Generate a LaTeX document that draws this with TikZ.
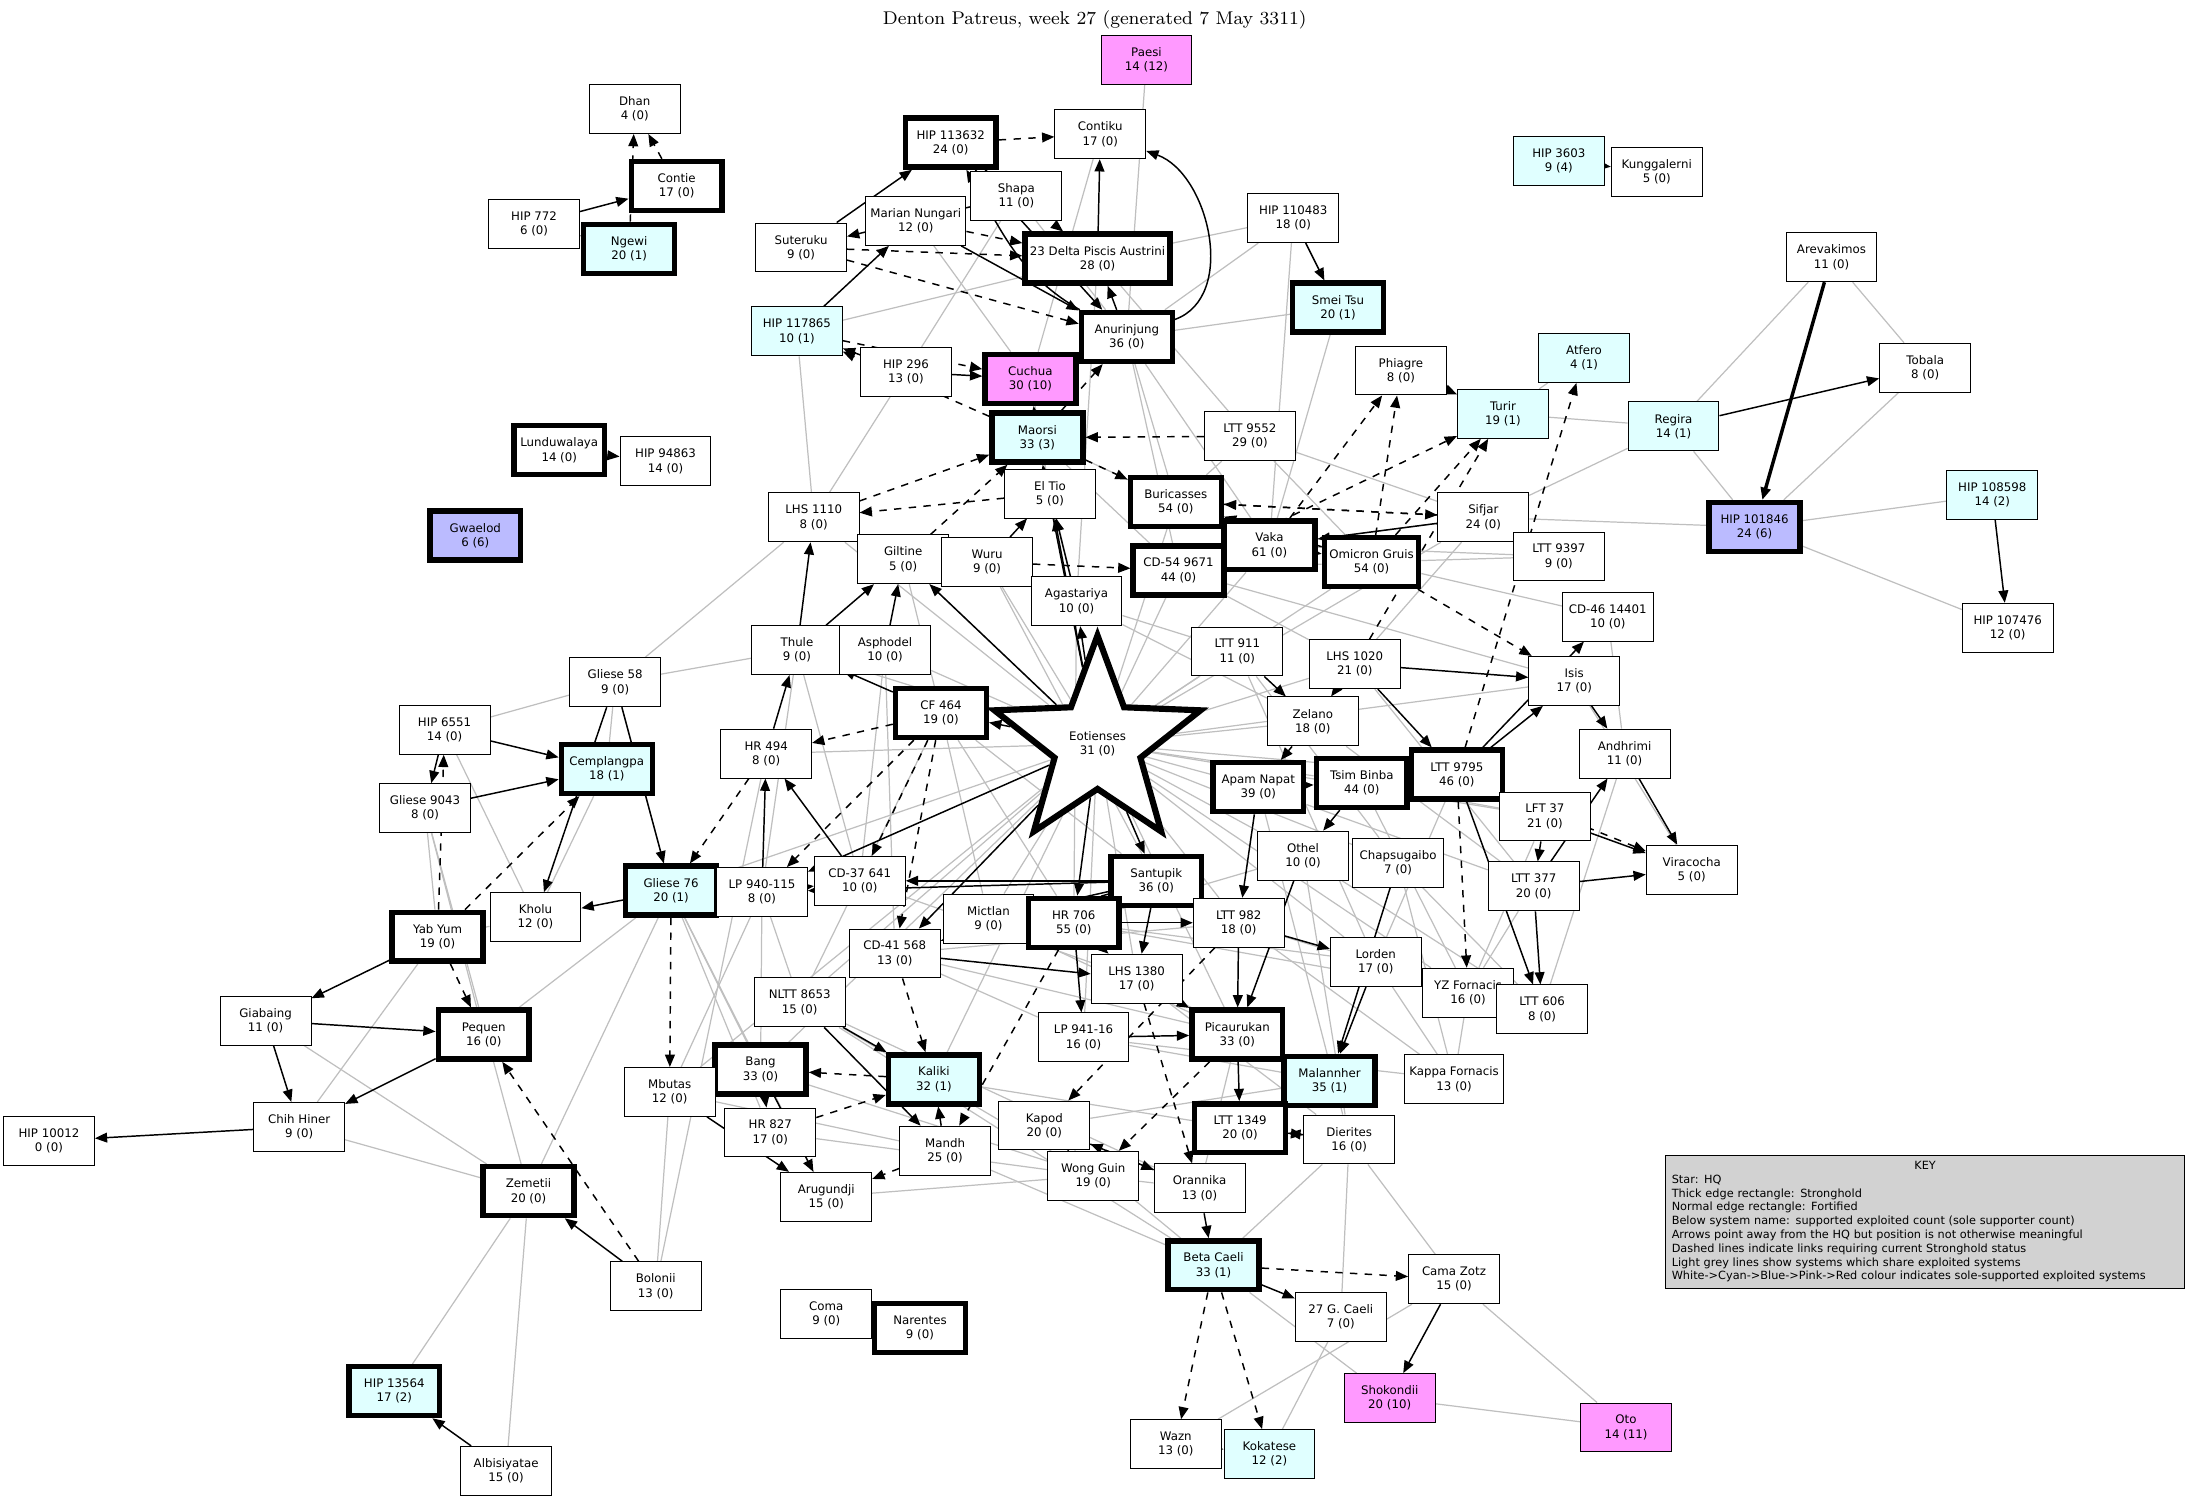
\documentclass[tikz,border=0pt]{standalone}
\usepackage{fontspec}
\setsansfont{DejaVu Sans}
\usetikzlibrary{arrows.meta,shapes.geometric,positioning,backgrounds}
\definecolor{cyanfill}{HTML}{E0FFFF}
\definecolor{bluefill}{HTML}{BBBBFF}
\definecolor{pinkfill}{HTML}{FF99FF}
\tikzset{
  sys/.style  = {draw, thin, align=center, fill=white, inner sep=2pt,
                 font=\sffamily\fontsize{4.8}{5.8}\selectfont,
                 minimum height=0.7cm, minimum width=1.3cm},
  hold/.style = {sys, line width=2.2pt},
  cy/.style   = {fill=cyanfill},
  bl/.style   = {fill=bluefill},
  pk/.style   = {fill=pinkfill},
  lnk/.style  = {-{Triangle[length=5pt,width=4pt]}, line width=0.6pt},
  dlnk/.style = {lnk, dashed},
  grey/.style = {gray!50, line width=0.5pt},
}

\begin{document}
\begin{tikzpicture}[x=0.02cm,y=-0.02cm]
  \useasboundingbox (0,0) rectangle (1565,1073);
  \node[font=\rmfamily\fontsize{7.5}{9}\selectfont] (title) at (783,14) {Denton Patreus, week 27 (generated 7 May 3311)};

  %systems, top area
  \node[sys,pk] (paesi) at (820,43) {Paesi\\14 (12)};
  \node[sys] (dhan) at (454,78) {Dhan\\4 (0)};
  \node[hold] (contie) at (484,133) {Contie\\17 (0)};
  \node[sys] (hip772) at (382,160) {HIP 772\\6 (0)};
  \node[hold,cy] (ngewi) at (450,178) {Ngewi\\20 (1)};
  \node[hold] (hipA) at (680,102) {HIP 113632\\24 (0)};
  \node[sys] (contiku) at (787,96) {Contiku\\17 (0)};
  \node[sys] (shapa) at (727,140) {Shapa\\11 (0)};
  \node[sys] (marian) at (655,158) {Marian Nungari\\12 (0)};
  \node[sys] (suteruku) at (573,177) {Suteruku\\9 (0)};
  \node[hold] (delta) at (785,185) {23 Delta Piscis Austrini\\28 (0)};
  \node[sys] (hip110483) at (925,156) {HIP 110483\\18 (0)};
  \node[sys,cy] (hip3603) at (1115,115) {HIP 3603\\9 (4)};
  \node[sys] (kung) at (1185,123) {Kunggalerni\\5 (0)};
  \node[sys] (arev) at (1310,184) {Arevakimos\\11 (0)};
  \node[hold,cy] (smei) at (957,220) {Smei Tsu\\20 (1)};
  \node[sys,cy] (hip117865) at (570,237) {HIP 117865\\10 (1)};
  \node[sys] (hip296) at (648,266) {HIP 296\\13 (0)};
  \node[hold,pk] (cuchua) at (737,271) {Cuchua\\30 (10)};
  \node[hold] (anur) at (806,241) {Anurinjung\\36 (0)};
  \node[sys] (phiagre) at (1002,265) {Phiagre\\8 (0)};
  \node[sys,cy] (atfero) at (1133,256) {Atfero\\4 (1)};
  \node[sys] (tobala) at (1377,263) {Tobala\\8 (0)};
  \node[sys,cy] (turir) at (1075,296) {Turir\\19 (1)};
  \node[sys,cy] (regira) at (1197,305) {Regira\\14 (1)};
  \node[sys] (ltt9552) at (894,312) {LTT 9552\\29 (0)};
  \node[hold,cy] (maorsi) at (742,313) {Maorsi\\33 (3)};
  \node[hold] (lundu) at (400,322) {Lunduwalaya\\14 (0)};
  \node[sys] (hip94863) at (476,330) {HIP 94863\\14 (0)};
  \node[sys] (eltio) at (751,353) {El Tio\\5 (0)};
  \node[hold] (buric) at (841,359) {Buricasses\\54 (0)};
  \node[sys] (lhs1110) at (582,370) {LHS 1110\\8 (0)};
  \node[hold,bl] (gwaelod) at (340,383) {Gwaelod\\6 (6)};
  \node[hold,bl] (hip101846) at (1255,377) {HIP 101846\\24 (6)};
  \node[sys,cy] (hip108598) at (1425,354) {HIP 108598\\14 (2)};
  \node[sys] (sifjar) at (1061,370) {Sifjar\\24 (0)};
  \node[hold] (vaka) at (908,390) {Vaka\\61 (0)};
  \node[hold] (omicron) at (981,402) {Omicron Gruis\\54 (0)};
  \node[sys] (ltt9397) at (1115,398) {LTT 9397\\9 (0)};
  \node[sys] (giltine) at (646,400) {Giltine\\5 (0)};
  \node[sys] (wuru) at (706,402) {Wuru\\9 (0)};
  \node[hold] (cdf) at (843,408) {CD-54 9671\\44 (0)};
  \node[sys] (agast) at (770,430) {Agastariya\\10 (0)};
  \node[sys] (cd46) at (1150,441) {CD-46 14401\\10 (0)};
  \node[sys] (hip107476) at (1436,449) {HIP 107476\\12 (0)};

  %systems, middle area
  \node[sys] (thule) at (570,465) {Thule\\9 (0)};
  \node[sys] (asphodel) at (633,465) {Asphodel\\10 (0)};
  \node[sys] (ltt911) at (885,466) {LTT 911\\11 (0)};
  \node[sys] (lhs1020) at (969,475) {LHS 1020\\21 (0)};
  \node[sys] (isis) at (1126,487) {Isis\\17 (0)};
  \node[sys] (gl58) at (440,488) {Gliese 58\\9 (0)};
  \node[hold] (cf464) at (673,510) {CF 464\\19 (0)};
  \node[star, star points=5, star point ratio=2.4, draw, fill=white, line width=2.5pt,
        minimum size=3.1cm, inner sep=0pt, align=center,
        font=\sffamily\fontsize{4.8}{5.8}\selectfont] (eot) at (785,532) {Eotienses\\31 (0)};
  \node[sys] (zelano) at (939,516) {Zelano\\18 (0)};
  \node[sys] (hip6551) at (318,522) {HIP 6551\\14 (0)};
  \node[sys] (hr494) at (548,539) {HR 494\\8 (0)};
  \node[sys] (andhrimi) at (1162,539) {Andhrimi\\11 (0)};
  \node[hold,cy] (cempl) at (434,550) {Cemplangpa\\18 (1)};
  \node[hold] (apam) at (900,563) {Apam Napat\\39 (0)};
  \node[hold] (tsim) at (974,560) {Tsim Binba\\44 (0)};
  \node[hold] (ltt9795) at (1042,554) {LTT 9795\\46 (0)};
  \node[sys] (gl9043) at (304,578) {Gliese 9043\\8 (0)};
  \node[sys] (lft37) at (1105,584) {LFT 37\\21 (0)};
  \node[hold] (santupik) at (827,630) {Santupik\\36 (0)};
  \node[sys] (othel) at (932,612) {Othel\\10 (0)};
  \node[sys] (chaps) at (1000,617) {Chapsugaibo\\7 (0)};
  \node[sys] (viracocha) at (1210,622) {Viracocha\\5 (0)};
  \node[hold,cy] (gl76) at (480,637) {Gliese 76\\20 (1)};
  \node[sys] (lp940) at (545,638) {LP 940-115\\8 (0)};
  \node[sys] (cd37) at (615,630) {CD-37 641\\10 (0)};
  \node[sys] (ltt377) at (1097,634) {LTT 377\\20 (0)};
  \node[sys] (kholu) at (383,656) {Kholu\\12 (0)};
  \node[hold] (yabyum) at (313,670) {Yab Yum\\19 (0)};
  \node[sys] (mictlan) at (707,657) {Mictlan\\9 (0)};
  \node[hold] (hr706) at (768,660) {HR 706\\55 (0)};
  \node[sys] (ltt982) at (886,660) {LTT 982\\18 (0)};
  \node[sys] (cd41) at (640,682) {CD-41 568\\13 (0)};
  \node[sys] (lorden) at (984,688) {Lorden\\17 (0)};
  \node[sys] (lhs1380) at (813,700) {LHS 1380\\17 (0)};
  \node[sys] (nltt) at (572,717) {NLTT 8653\\15 (0)};
  \node[sys] (yzf) at (1050,710) {YZ Fornacis\\16 (0)};
  \node[sys] (ltt606) at (1103,722) {LTT 606\\8 (0)};

  %systems, lower area
  \node[sys] (giabaing) at (190,730) {Giabaing\\11 (0)};
  \node[hold] (pequen) at (346,740) {Pequen\\16 (0)};
  \node[sys] (lp941) at (775,742) {LP 941-16\\16 (0)};
  \node[hold] (picau) at (885,740) {Picaurukan\\33 (0)};
  \node[hold] (bang) at (544,765) {Bang\\33 (0)};
  \node[hold,cy] (kaliki) at (668,772) {Kaliki\\32 (1)};
  \node[hold,cy] (malann) at (951,773) {Malannher\\35 (1)};
  \node[sys] (kappa) at (1040,772) {Kappa Fornacis\\13 (0)};
  \node[sys] (mbutas) at (479,781) {Mbutas\\12 (0)};
  \node[sys] (kapod) at (747,805) {Kapod\\20 (0)};
  \node[sys] (hr827) at (551,810) {HR 827\\17 (0)};
  \node[sys] (mandh) at (676,823) {Mandh\\25 (0)};
  \node[hold] (ltt1349) at (887,807) {LTT 1349\\20 (0)};
  \node[sys] (dierites) at (965,815) {Dierites\\16 (0)};
  \node[sys] (hip10012) at (35,816) {HIP 10012\\0 (0)};
  \node[sys] (chih) at (214,806) {Chih Hiner\\9 (0)};
  \node[sys] (wong) at (782,841) {Wong Guin\\19 (0)};
  \node[sys] (arug) at (591,856) {Arugundji\\15 (0)};
  \node[sys] (oran) at (858,850) {Orannika\\13 (0)};
  \node[hold] (zemetii) at (378,852) {Zemetii\\20 (0)};
  \node[hold,cy] (beta) at (868,905) {Beta Caeli\\33 (1)};
  \node[sys] (cama) at (1040,915) {Cama Zotz\\15 (0)};
  \node[sys] (gcaeli) at (959,942) {27 G. Caeli\\7 (0)};
  \node[sys] (bolonii) at (469,920) {Bolonii\\13 (0)};
  \node[sys] (coma) at (591,940) {Coma\\9 (0)};
  \node[hold] (narentes) at (658,950) {Narentes\\9 (0)};
  \node[sys,pk] (shok) at (994,1000) {Shokondii\\20 (10)};
  \node[hold,cy] (hip13564) at (282,995) {HIP 13564\\17 (2)};
  \node[sys,pk] (oto) at (1163,1021) {Oto\\14 (11)};
  \node[sys] (wazn) at (841,1033) {Wazn\\13 (0)};
  \node[sys,cy] (kokat) at (908,1040) {Kokatese\\12 (2)};
  \node[sys] (albis) at (362,1052) {Albisiyatae\\15 (0)};

  \node[draw, fill=gray!35, anchor=north west, text width=7.25cm, align=left, inner sep=2.5pt,
        font=\sffamily\fontsize{4.6}{5.6}\selectfont] (key) at (1191,826)
    {\makebox[\linewidth]{KEY}\\ Star: HQ\\ Thick edge rectangle: Stronghold\\ Normal edge rectangle: Fortified\\
     Below system name: supported exploited count (sole supporter count)\\
     Arrows point away from the HQ but position is not otherwise meaningful\\
     Dashed lines indicate links requiring current Stronghold status\\
     Light grey lines show systems which share exploited systems\\
     \mbox{White->Cyan->Blue->Pink->Red colour indicates sole-supported exploited systems}};

  \begin{scope}[on background layer]
    %shared exploited systems
    \foreach \a/\b in {paesi/anur, hip110483/delta, hip110483/vaka, hip110483/anur, smei/anur, smei/vaka,
      arev/regira, arev/tobala, tobala/hip101846, regira/hip101846, hip108598/hip101846, hip101846/hip107476,
      hip101846/sifjar, regira/turir, regira/sifjar, atfero/turir, gl58/hip6551, gl58/thule, gl58/lhs1110,
      gl58/cempl, hip6551/kholu, gl9043/yabyum, gl9043/pequen, gl9043/zemetii, kholu/cempl, yabyum/chih,
      giabaing/zemetii, chih/zemetii, zemetii/hip13564, zemetii/albis, pequen/gl76, bolonii/hr494,
      shok/oto, shok/beta, oto/cama, cama/dierites, gcaeli/kokat, gcaeli/dierites, wazn/cama, lhs1110/hip117865,
      lhs1110/hip296, hip296/shapa, hip117865/delta, shapa/anur, marian/cuchua, contiku/cuchua, delta/ltt9552,
      anur/vaka, anur/buric, anur/cdf, maorsi/cdf, maorsi/vaka, ltt9552/sifjar, ltt9552/omicron, vaka/sifjar,
      vaka/ltt9397, omicron/ltt9397, omicron/cd46, sifjar/lhs1020, isis/viracocha, andhrimi/ltt606, cd46/andhrimi,
      eot/lhs1110, eot/thule, eot/asphodel, eot/giltine, eot/wuru, eot/ltt911, eot/lhs1020, eot/zelano, eot/apam,
      eot/tsim, eot/ltt9795, eot/othel, eot/chaps, eot/ltt982, eot/lorden, eot/lhs1380, eot/lp941, eot/mictlan,
      eot/nltt, eot/gl76, eot/hr494, eot/cdf, eot/vaka, eot/omicron, eot/buric, eot/sifjar, eot/isis, eot/lft37,
      eot/picau, eot/yzf, eot/kaliki, eot/bang, eot/mbutas, thule/cd37, thule/lp940, asphodel/cd37, asphodel/cd41,
      cf464/hr706, cf464/mictlan, cf464/nltt, cf464/santupik, lp940/nltt, lp940/bang, lp940/mbutas, gl76/bang,
      gl76/arug, gl76/hr827, cd37/lhs1380, cd41/lp941, cd41/picau, cd41/ltt982, nltt/wong, nltt/oran, nltt/beta,
      mictlan/picau, hr706/lorden, hr706/othel, hr706/yzf, lhs1380/malann, lhs1380/dierites, lp941/kappa,
      lp941/malann, ltt982/yzf, ltt982/kappa, othel/ltt606, chaps/ltt606, chaps/kappa, lorden/kappa, zelano/ltt377,
      apam/ltt377, tsim/lft37, tsim/yzf, apam/dierites, othel/dierites, ltt911/lorden, ltt911/chaps, lhs1020/ltt377,
      buric/ltt9552, cdf/isis, cdf/lhs1020, cdf/omicron, agast/ltt911, agast/zelano, agast/hr706, wuru/santupik,
      giltine/cf464, bang/wong, hr827/wong, mandh/beta, kapod/beta, arug/wong, mbutas/mandh, wong/oran,
      kaliki/ltt1349, oran/picau, beta/dierites, kapod/malann, yzf/kappa, ltt9795/lorden, lft37/yzf, ltt377/yzf,
      vaka/buric, cuchua/eltio, maorsi/agast, delta/agast, gl58/gl76, kholu/yabyum, bolonii/mbutas, gl76/zemetii}
      \draw[grey] (\a) -- (\b);
    %links from the HQ outwards
    \foreach \a/\b in {hip772/contie, hip772/ngewi, hip3603/kung, regira/tobala, hip108598/hip107476,
      hip110483/smei, hip296/cuchua, hip296/hip117865, hip117865/marian, phiagre/turir, lundu/hip94863,
      coma/narentes, cama/shok, albis/hip13564, bolonii/zemetii, yabyum/giabaing, giabaing/pequen,
      giabaing/chih, pequen/chih, chih/hip10012, gl76/kholu, gl58/kholu, gl58/gl76, hip6551/cempl,
      hip6551/gl9043, gl9043/cempl, beta/gcaeli, wazn/kokat, anur/delta, delta/contiku, suteruku/hipA,
      hipA/anur, shapa/suteruku, marian/anur, thule/lhs1110, hr494/thule, lp940/hr494, cd37/hr494,
      bang/hr827, bang/arug, mbutas/arug, nltt/mandh, nltt/kaliki, mandh/kaliki, kapod/wong, kapod/oran,
      oran/beta, ltt9795/cd46, ltt9795/isis, lhs1020/isis, isis/andhrimi, andhrimi/viracocha,
      ltt377/viracocha, ltt377/andhrimi, lft37/ltt377, lft37/viracocha, ltt9795/ltt606, lorden/ltt606,
      ltt377/ltt606, vaka/omicron, vaka/buric, omicron/buric, eot/cf464, eot/lp940, eot/cd41, eot/hr706,
      eot/santupik, eot/agast, eot/giltine, eot/eltio, eot/maorsi, cf464/thule, asphodel/thule, asphodel/giltine,
      santupik/lp940, santupik/cd37, santupik/mictlan, santupik/ltt982, hr706/lp941, hr706/ltt982, hr706/lhs1380,
      lhs1380/picau, picau/ltt1349, malann/picau, malann/ltt1349, dierites/ltt1349, apam/tsim, tsim/ltt9795,
      zelano/apam, lhs1020/zelano, lhs1020/ltt9795, sifjar/vaka, ltt911/zelano, agast/eltio, giltine/wuru,
      thule/giltine, wuru/eltio, cd41/lhs1380, ltt982/picau, othel/picau, lorden/malann, ltt982/lorden,
      apam/ltt982, tsim/othel, chaps/malann, ltt1349/dierites, lp941/picau, santupik/lhs1380, lorden/yzf}
      \draw[lnk] (\a) -- (\b);
    \draw[lnk] (anur) to[out=20,in=-20] (contiku);
    \draw[lnk] (anur) to[out=150,in=-60] (hipA);
    \draw[lnk, line width=1.4pt] (arev) -- (hip101846);
    %links that need a stronghold
    \foreach \a/\b in {contie/dhan, ngewi/dhan, hipA/contiku, hipA/delta, marian/delta, suteruku/delta,
      suteruku/anur, hip117865/cuchua, maorsi/hip117865, maorsi/anur, cuchua/anur, ltt9552/maorsi,
      lhs1110/maorsi, yabyum/pequen, yabyum/hip6551, yabyum/cempl, bolonii/pequen, gl76/mbutas,
      hr494/gl76, beta/cama, beta/wazn, beta/kokat, cf464/hr494, cf464/cd41, cf464/lp940, cf464/cd37,
      omicron/phiagre, omicron/turir, lhs1020/turir, ltt9795/atfero, vaka/phiagre, sifjar/buric,
      omicron/isis, ltt9795/viracocha, ltt9795/yzf, lhs1380/oran, ltt982/kapod, picau/wong, oran/kapod,
      kaliki/bang, mandh/arug, hr827/kaliki, maorsi/buric, cdf/turir, wuru/cdf, lp940/cd37, giltine/maorsi,
      eltio/lhs1110, cd41/kaliki, hr706/mandh, santupik/cd41, ltt606/yzf, buric/sifjar, maorsi/cuchua}
      \draw[dlnk] (\a) -- (\b);
  \end{scope}
\end{tikzpicture}
\end{document}
